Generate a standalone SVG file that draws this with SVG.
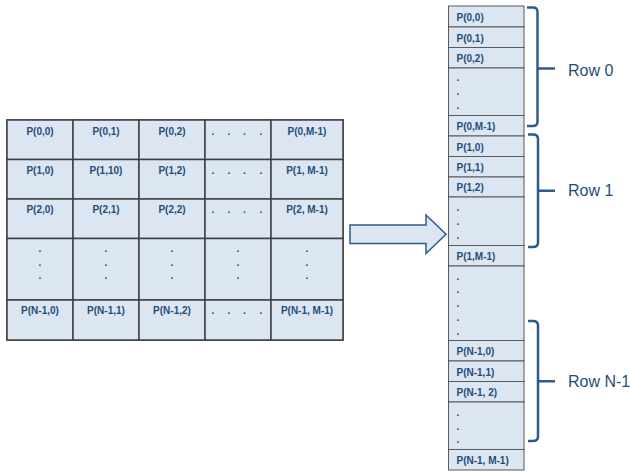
<svg xmlns="http://www.w3.org/2000/svg" width="630" height="472" viewBox="0 0 630 472">
<style>
.cell{fill:#DCE6F2;stroke:#404040;stroke-width:1.5}
.rc{fill:#DCE6F2;stroke:#595959;stroke-width:1}
.lbl{font-family:"Liberation Sans",Arial,sans-serif;font-weight:bold;font-size:10px;fill:#1F4E79}
.c{text-anchor:middle}
.row{font-family:"Liberation Sans",Arial,sans-serif;font-size:16px;fill:#1F4E79}
.brace{fill:none;stroke:#2E5B8C;stroke-width:2.5}
.arrow{fill:#DCE6F2;stroke:#2E5B8C;stroke-width:1.5}
</style>
<rect width="630" height="472" fill="#FFFFFF"/>
<g id="matrix">
<rect class="cell" x="7" y="120" width="336" height="220"/>
<g id="r0">
<rect class="cell" x="7" y="120" width="66" height="39.5"/><rect class="cell" x="73" y="120" width="66" height="39.5"/><rect class="cell" x="139" y="120" width="66" height="39.5"/><rect class="cell" x="205" y="120" width="66" height="39.5"/><rect class="cell" x="271" y="120" width="72" height="39.5"/>
<text class="lbl c" x="40" y="134.5">P(0,0)</text><text class="lbl c" x="106" y="134.5">P(0,1)</text><text class="lbl c" x="172" y="134.5">P(0,2)</text>
<text class="lbl" x="211.6 227.6 243 259.6" y="134.5">....</text>
<text class="lbl c" x="307" y="134.5">P(0,M-1)</text>
</g>
<g id="r1">
<rect class="cell" x="7" y="159.5" width="66" height="39.5"/><rect class="cell" x="73" y="159.5" width="66" height="39.5"/><rect class="cell" x="139" y="159.5" width="66" height="39.5"/><rect class="cell" x="205" y="159.5" width="66" height="39.5"/><rect class="cell" x="271" y="159.5" width="72" height="39.5"/>
<text class="lbl c" x="40" y="173.5">P(1,0)</text><text class="lbl c" x="106" y="173.5">P(1,10)</text><text class="lbl c" x="172" y="173.5">P(1,2)</text>
<text class="lbl" x="211.6 227.6 243 259.6" y="173.5">....</text>
<text class="lbl c" x="307" y="173.5">P(1, M-1)</text>
</g>
<g id="r2">
<rect class="cell" x="7" y="199" width="66" height="39.5"/><rect class="cell" x="73" y="199" width="66" height="39.5"/><rect class="cell" x="139" y="199" width="66" height="39.5"/><rect class="cell" x="205" y="199" width="66" height="39.5"/><rect class="cell" x="271" y="199" width="72" height="39.5"/>
<text class="lbl c" x="40" y="213">P(2,0)</text><text class="lbl c" x="106" y="213">P(2,1)</text><text class="lbl c" x="172" y="213">P(2,2)</text>
<text class="lbl" x="211.6 227.6 243 259.6" y="213">....</text>
<text class="lbl c" x="307" y="213">P(2, M-1)</text>
</g>
<g id="rdots">
<rect class="cell" x="7" y="238.5" width="66" height="61.5"/><rect class="cell" x="73" y="238.5" width="66" height="61.5"/><rect class="cell" x="139" y="238.5" width="66" height="61.5"/><rect class="cell" x="205" y="238.5" width="66" height="61.5"/><rect class="cell" x="271" y="238.5" width="72" height="61.5"/>
<text class="lbl c" x="40 40 40" y="252 265.5 279">...</text>
<text class="lbl c" x="106 106 106" y="252 265.5 279">...</text>
<text class="lbl c" x="172 172 172" y="252 265.5 279">...</text>
<text class="lbl c" x="238 238 238" y="252 265.5 279">...</text>
<text class="lbl c" x="307 307 307" y="252 265.5 279">...</text>
</g>
<g id="rN">
<rect class="cell" x="7" y="300" width="66" height="40"/><rect class="cell" x="73" y="300" width="66" height="40"/><rect class="cell" x="139" y="300" width="66" height="40"/><rect class="cell" x="205" y="300" width="66" height="40"/><rect class="cell" x="271" y="300" width="72" height="40"/>
<text class="lbl c" x="40" y="314">P(N-1,0)</text><text class="lbl c" x="106" y="314">P(N-1,1)</text><text class="lbl c" x="172" y="314">P(N-1,2)</text>
<text class="lbl" x="211.6 227.6 243 259.6" y="314">....</text>
<text class="lbl c" x="307" y="314">P(N-1, M-1)</text>
</g>
</g>
<g id="connectors">
<polygon id="arrow" class="arrow" points="350,225 426,225 426,215 446,234.3 426,253.5 426,243.5 350,243.5"/>
</g>
<g id="memory">
<g id="m00"><rect class="rc" x="448.5" y="6" width="75.5" height="21"/><text class="lbl" x="456.5" y="21">P(0,0)</text></g>
<g id="m01"><rect class="rc" x="448.5" y="27" width="75.5" height="20.5"/><text class="lbl" x="456.5" y="41.5">P(0,1)</text></g>
<g id="m02"><rect class="rc" x="448.5" y="47.5" width="75.5" height="20.5"/><text class="lbl" x="456.5" y="62">P(0,2)</text></g>
<g id="m0d"><rect class="rc" x="448.5" y="68" width="75.5" height="47.5"/><text class="lbl" x="456.5 456.5 456.5" y="81 95 109">...</text></g>
<g id="m0M"><rect class="rc" x="448.5" y="115.5" width="75.5" height="20.5"/><text class="lbl" x="456.5" y="130">P(0,M-1)</text></g>
<g id="m10"><rect class="rc" x="448.5" y="136" width="75.5" height="20.5"/><text class="lbl" x="456.5" y="150.5">P(1,0)</text></g>
<g id="m11"><rect class="rc" x="448.5" y="156.5" width="75.5" height="20.5"/><text class="lbl" x="456.5" y="171">P(1,1)</text></g>
<g id="m12"><rect class="rc" x="448.5" y="177" width="75.5" height="20"/><text class="lbl" x="456.5" y="191">P(1,2)</text></g>
<g id="m1d"><rect class="rc" x="448.5" y="197" width="75.5" height="48.5"/><text class="lbl" x="456.5 456.5 456.5" y="211 224.5 238.5">...</text></g>
<g id="m1M"><rect class="rc" x="448.5" y="245.5" width="75.5" height="20.5"/><text class="lbl" x="456.5" y="260">P(1,M-1)</text></g>
<g id="mgap"><rect class="rc" x="448.5" y="266" width="75.5" height="74.5"/><text class="lbl" x="456.5 456.5 456.5 456.5 456.5" y="279.5 293 307 321 334.5">.....</text></g>
<g id="mN0"><rect class="rc" x="448.5" y="340.5" width="75.5" height="20.5"/><text class="lbl" x="456.5" y="355">P(N-1,0)</text></g>
<g id="mN1"><rect class="rc" x="448.5" y="361" width="75.5" height="20.5"/><text class="lbl" x="456.5" y="375.5">P(N-1,1)</text></g>
<g id="mN2"><rect class="rc" x="448.5" y="381.5" width="75.5" height="20.5"/><text class="lbl" x="456.5" y="396">P(N-1, 2)</text></g>
<g id="mNd"><rect class="rc" x="448.5" y="402" width="75.5" height="47.5"/><text class="lbl" x="456.5 456.5 456.5" y="415.5 429.5 442.5">...</text></g>
<g id="mNM"><rect class="rc" x="448.5" y="449.5" width="75.5" height="20.5"/><text class="lbl" x="456.5" y="464">P(N-1, M-1)</text></g>
</g>
<g id="row0">
<path class="brace" d="M527,7.5 H533 Q537.5,7.5 537.5,12 V121.5 Q537.5,126 533,126 H527 M537.5,68.5 H555"/>
<text class="row" x="568" y="75.5">Row 0</text>
</g>
<g id="row1">
<path class="brace" d="M528,134.5 H533 Q538,134.5 538,139 V242.5 Q538,247 533,247 H528 M538,190.7 H555"/>
<text class="row" x="568" y="196">Row 1</text>
</g>
<g id="rowN">
<path class="brace" d="M528,321 H533 Q538,321 538,325.5 V436.5 Q538,441 533,441 H528 M538,381.3 H555"/>
<text class="row" x="568" y="387">Row N-1</text>
</g>
</svg>
